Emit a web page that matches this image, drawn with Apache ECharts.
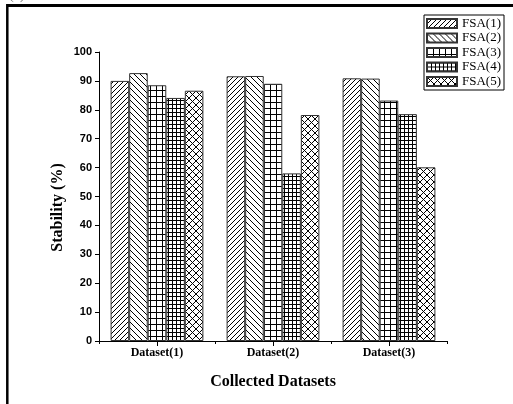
<!DOCTYPE html>
<html>
<head>
<meta charset="utf-8">
<script src="https://cdn.jsdelivr.net/npm/echarts@6/dist/echarts.min.js"></script>
<style>html,body{margin:0;padding:0;background:#fff}#c{width:513px;height:404px}</style>
</head>
<body>
<div id="c"></div>
<script>
const categories = ['Dataset(1)', 'Dataset(2)', 'Dataset(3)'];
const seriesNames = ['FSA(1)', 'FSA(2)', 'FSA(3)', 'FSA(4)', 'FSA(5)'];
const fsa1 = [90.0, 91.6, 90.9];
const fsa2 = [92.7, 91.7, 90.8];
const fsa3 = [88.5, 89.0, 83.2];
const fsa4 = [84.1, 58.0, 78.5];
const fsa5 = [86.6, 78.2, 60.1];
const yTicks = [0, 10, 20, 30, 40, 50, 60, 70, 80, 90, 100];
const seriesValues = [fsa1, fsa2, fsa3, fsa4, fsa5];

function makePattern(type) {
  const sizes = {fwd: 5, back: 6, grid: 6, dense: 4, cross: 7};
  const s = sizes[type];
  const c = document.createElement('canvas');
  c.width = s; c.height = s;
  const ctx = c.getContext('2d');
  ctx.fillStyle = '#fff';
  ctx.fillRect(0, 0, s, s);
  ctx.strokeStyle = '#000';
  ctx.lineWidth = 1;
  ctx.beginPath();
  if (type === 'fwd' || type === 'cross') {
    for (let k = -1; k <= 1; k++) {
      ctx.moveTo(k * s, s); ctx.lineTo(k * s + s, 0);
    }
  }
  if (type === 'back' || type === 'cross') {
    for (let k = -1; k <= 1; k++) {
      ctx.moveTo(k * s, 0); ctx.lineTo(k * s + s, s);
    }
  }
  if (type === 'grid' || type === 'dense') {
    ctx.moveTo(0, 0.5); ctx.lineTo(s, 0.5);
    ctx.moveTo(0.5, 0); ctx.lineTo(0.5, s);
  }
  ctx.stroke();
  return {image: c, repeat: 'repeat'};
}
const patternTypes = ['fwd', 'back', 'grid', 'dense', 'cross'];

const chart = echarts.init(document.getElementById('c'), null, {renderer: 'canvas'});
const serif = 'Liberation Serif';
const sans = 'Liberation Sans';

const option = {
  backgroundColor: '#fff',
  animation: false,
  grid: {left: 99, right: 66, top: 52, bottom: 63, containLabel: false},
  legend: {
    orient: 'vertical',
    left: 424, top: 15,
    padding: [2, 3, 2, 2],
    borderColor: '#000', borderWidth: 1,
    backgroundColor: '#fff',
    itemWidth: 30, itemHeight: 9, itemGap: 1.5,
    icon: 'rect',
    textStyle: {fontFamily: serif, fontSize: 13, color: '#000', lineHeight: 13},
    data: seriesNames
  },
  xAxis: [{
    type: 'category',
    data: categories,
    position: 'bottom',
    axisLine: {lineStyle: {color: '#000', width: 1}},
    axisTick: {show: true, length: 3, alignWithLabel: false, lineStyle: {color: '#000'}},
    axisLabel: {fontFamily: serif, fontWeight: 'bold', fontSize: 12, color: '#000', margin: 6},
    name: 'Collected Datasets',
    nameLocation: 'middle',
    nameGap: 33,
    nameMoveOverlap: false,
    nameTextStyle: {fontFamily: serif, fontWeight: 'bold', fontSize: 16, color: '#000'}
  }, {
    type: 'category',
    data: categories,
    position: 'bottom',
    axisLine: {show: false},
    axisTick: {show: true, length: 5, alignWithLabel: true, lineStyle: {color: '#000'}},
    axisLabel: {show: false}
  }],
  yAxis: {
    type: 'value',
    min: 0, max: 100, interval: 10,
    axisLine: {show: true, lineStyle: {color: '#000', width: 1}},
    axisTick: {show: true, length: 4, lineStyle: {color: '#000'}},
    splitLine: {show: false},
    axisLabel: {fontFamily: sans, fontWeight: 'bold', fontSize: 11, color: '#000', margin: 7,
      formatter: v => yTicks.includes(v) ? String(v) : ''},
    name: 'Stability (%)',
    nameLocation: 'middle',
    nameGap: 33,
    nameMoveOverlap: false,
    nameTextStyle: {fontFamily: serif, fontWeight: 'bold', fontSize: 16, color: '#000', padding: [0, 22, 0, 0]}
  },
  series: seriesNames.map((n, i) => ({
    name: n,
    type: 'bar',
    xAxisIndex: 0,
    data: seriesValues[i],
    barGap: '0%',
    barCategoryGap: '20%',
    itemStyle: {color: makePattern(patternTypes[i]), borderColor: '#333', borderWidth: 1}
  })),
  graphic: [
    {type: 'line', shape: {x1: 7, y1: 5.5, x2: 513, y2: 5.5}, style: {stroke: '#000', lineWidth: 3}, silent: true},
    {type: 'line', shape: {x1: 7.3, y1: 4, x2: 7.3, y2: 404}, style: {stroke: '#000', lineWidth: 2.5}, silent: true},
    {type: 'text', left: 9, top: -12, style: {text: '(a)', font: '14px "Liberation Serif"', fill: '#777'}, silent: true}
  ]
};
chart.setOption(option);
</script>
</body>
</html>
